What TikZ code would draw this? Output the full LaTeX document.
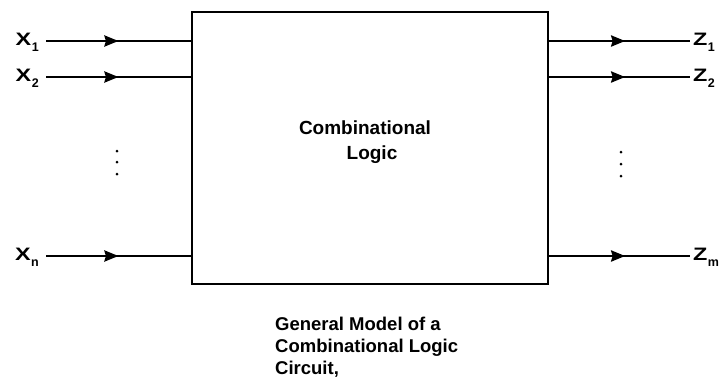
\documentclass[tikz,border=0pt]{standalone}
\usepackage{fontspec}
\usepackage{graphicx}
\setmainfont{Liberation Sans}
\usetikzlibrary{arrows.meta,decorations.markings}
\newcommand{\lbl}[2]{\scalebox{1.3}[1]{\fontsize{18}{18}\selectfont\bfseries #1}\kern0.5pt\raisebox{-6pt}{\fontsize{12.5}{12.5}\selectfont\bfseries #2}}
\begin{document}
\begin{tikzpicture}[x=1pt,y=-1pt,
  wire/.style={line width=2.8pt,
    postaction={decorate},
    decoration={markings,mark=at position #1 with {\arrow{Stealth[length=14pt,width=11pt,inset=1.5pt]}}}},
  wire/.default=0.5,
  lab/.style={inner sep=0pt},
  dotmark/.style={fill=black, circle, inner sep=0pt, minimum size=3pt},
  txt/.style={font=\fontsize{19}{25}\selectfont\bfseries, inner sep=0pt},
  captxt/.style={font=\fontsize{18.5}{22}\selectfont\bfseries, inner sep=0pt}]
\useasboundingbox (0,0) rectangle (724,381);
\node[draw, line width=2.2pt, minimum width=356pt, minimum height=272pt, inner sep=0pt] (box) at (370,148) {};
\node[txt, anchor=base] (t1) at (365,134) {Combinational};
\node[txt, anchor=base] (t2) at (372,159) {Logic};
% inputs
\node[lab, anchor=base east] (x1) at (39,45) {\lbl{X}{1}};
\node[lab, anchor=base east] (x2) at (39,81) {\lbl{X}{2}};
\node[lab, anchor=base east] (xn) at (39,260) {\lbl{X}{n}};
\coordinate (b1) at (box.west |- 0,41);
\coordinate (b2) at (box.west |- 0,77);
\coordinate (bn) at (box.west |- 0,256);
\draw[wire=0.5] ([xshift=7pt]x1.east |- b1) -- (b1);
\draw[wire=0.5] ([xshift=7pt]x2.east |- b2) -- (b2);
\draw[wire=0.5] ([xshift=7pt]xn.east |- bn) -- (bn);
% outputs
\node[lab, anchor=base west] (z1) at (693,45) {\lbl{Z}{1}};
\node[lab, anchor=base west] (z2) at (693,81) {\lbl{Z}{2}};
\node[lab, anchor=base west] (zm) at (693,260) {\lbl{Z}{m}};
\coordinate (c1) at (box.east |- 0,41);
\coordinate (c2) at (box.east |- 0,77);
\coordinate (cm) at (box.east |- 0,256);
\draw[wire=0.54] (c1) -- ([xshift=-3pt]z1.west |- c1);
\draw[wire=0.54] (c2) -- ([xshift=-3pt]z2.west |- c2);
\draw[wire=0.54] (cm) -- ([xshift=-3pt]zm.west |- cm);
% dots
\node[dotmark] (ld1) at (117,151) {};
\node[dotmark] (ld2) at (117,162) {};
\node[dotmark] (ld3) at (117,174) {};
\node[dotmark] (rd1) at (621,152) {};
\node[dotmark] (rd2) at (621,164) {};
\node[dotmark] (rd3) at (621,176) {};
% caption
\node[captxt, anchor=base west] (cap1) at (275,330) {General Model of a};
\node[captxt, anchor=base west] (cap2) at (275,352) {Combinational Logic};
\node[captxt, anchor=base west] (cap3) at (275,374) {Circuit,};
\end{tikzpicture}
\end{document}
